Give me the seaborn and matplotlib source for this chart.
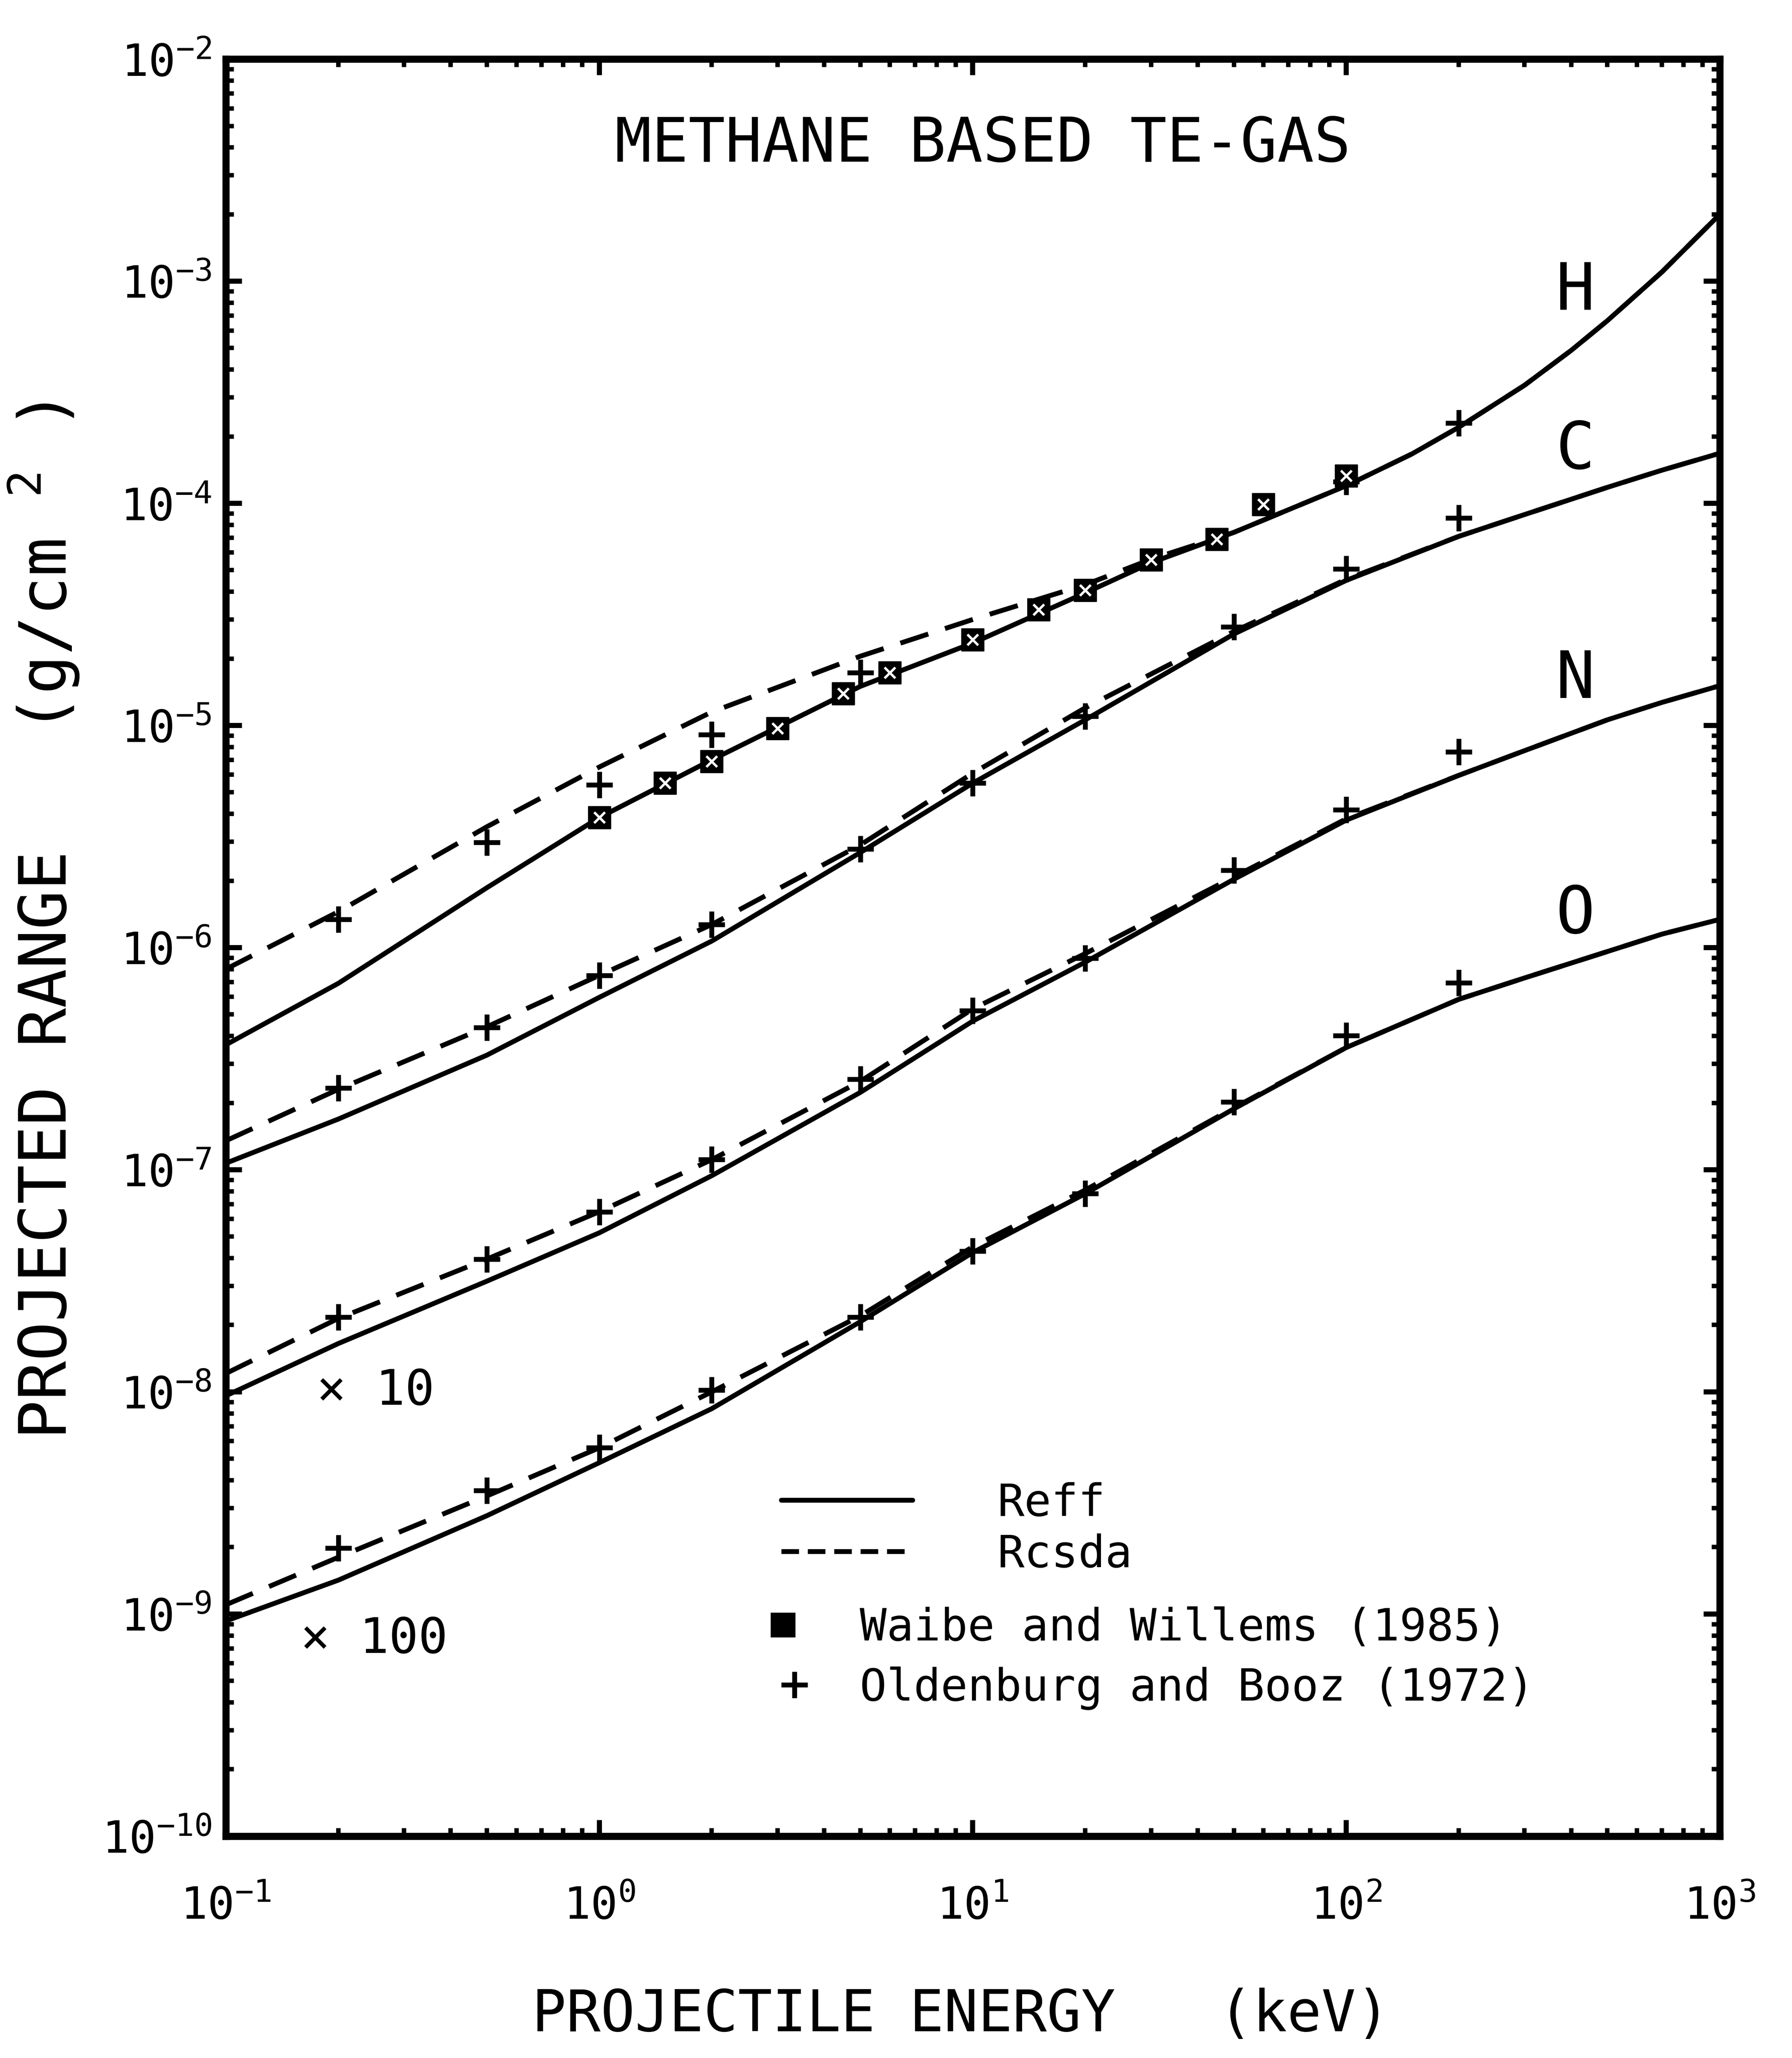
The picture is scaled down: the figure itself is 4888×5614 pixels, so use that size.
import numpy as np
import matplotlib
matplotlib.use("Agg")
import matplotlib.pyplot as plt
import seaborn as sns
from matplotlib.lines import Line2D
from matplotlib.legend_handler import HandlerTuple
from matplotlib.ticker import FixedLocator, NullFormatter, LogFormatterSciNotation

# ---------------- data ----------------
# projectile energy (keV)
energy_H = [0.1, 0.2, 0.5, 1, 2, 5, 10, 20, 30, 50, 100, 150, 200, 300, 400, 500, 700, 1000]
H_reff = [3.65e-7, 6.9e-7, 1.86e-6, 3.85e-6, 7.0e-6, 1.5e-5, 2.35e-5, 3.95e-5, 5.4e-5,
          7.4e-5, 1.2e-4, 1.67e-4, 2.2e-4, 3.4e-4, 4.88e-4, 6.64e-4, 1.1e-3, 2.0e-3]
H_csda = [8.0e-7, 1.45e-6, 3.5e-6, 6.5e-6, 1.15e-5, 2.05e-5, 3.0e-5, 4.3e-5, 5.6e-5,
          7.4e-5, 1.2e-4, 1.67e-4, 2.2e-4, 3.4e-4, 4.88e-4, 6.64e-4, 1.1e-3, 2.0e-3]

energy = [0.1, 0.2, 0.5, 1, 2, 5, 10, 20, 50, 100, 200, 300, 500, 700, 1000]
C_reff = [1.07e-7, 1.69e-7, 3.28e-7, 5.97e-7, 1.07e-6, 2.68e-6, 5.5e-6, 1.06e-5, 2.58e-5,
          4.5e-5, 7.1e-5, 8.9e-5, 1.18e-4, 1.41e-4, 1.68e-4]
C_csda = [1.35e-7, 2.3e-7, 4.4e-7, 7.5e-7, 1.27e-6, 2.9e-6, 6.1e-6, 1.2e-5, 2.65e-5,
          4.55e-5, 7.1e-5, 8.9e-5, 1.18e-4, 1.41e-4, 1.68e-4]
# N values are multiplied by 10, O values by 100 (as in the original)
N_reff = [9.6e-9, 1.65e-8, 3.15e-8, 5.2e-8, 9.4e-8, 2.23e-7, 4.67e-7, 8.6e-7, 2.03e-6,
          3.75e-6, 5.96e-6, 7.7e-6, 1.06e-5, 1.27e-5, 1.51e-5]
N_csda = [1.21e-8, 2.14e-8, 3.96e-8, 6.47e-8, 1.11e-7, 2.5e-7, 5.3e-7, 9.4e-7, 2.08e-6,
          3.8e-6, 5.96e-6, 7.7e-6, 1.06e-5, 1.27e-5, 1.51e-5]
O_reff = [9.3e-10, 1.42e-9, 2.77e-9, 4.8e-9, 8.4e-9, 2.07e-8, 4.24e-8, 7.8e-8, 1.88e-7,
          3.55e-7, 5.85e-7, 7.3e-7, 9.6e-7, 1.15e-6, 1.34e-6]
O_csda = [1.1e-9, 1.8e-9, 3.4e-9, 5.6e-9, 1.0e-8, 2.2e-8, 4.5e-8, 8.1e-8, 1.9e-7,
          3.55e-7, 5.85e-7, 7.3e-7, 9.6e-7, 1.15e-6, 1.34e-6]

# Waibel and Willems (1985) - hydrogen
waibel_E = [1, 1.5, 2, 3, 4.5, 6, 10, 15, 20, 30, 45, 60, 100]
waibel_R = [3.85e-6, 5.5e-6, 6.9e-6, 9.7e-6, 1.39e-5, 1.73e-5, 2.43e-5, 3.32e-5, 4.07e-5,
            5.57e-5, 6.9e-5, 9.9e-5, 1.33e-4]

# Oldenburg and Booz (1972)
oldH_E = [0.2, 0.5, 1, 2, 5, 100, 200]
oldH_R = [1.34e-6, 2.98e-6, 5.4e-6, 9.1e-6, 1.73e-5, 1.25e-4, 2.3e-4]
old_E = [0.2, 0.5, 1, 2, 5, 10, 20, 50, 100, 200]
oldC_R = [2.33e-7, 4.36e-7, 7.5e-7, 1.27e-6, 2.78e-6, 5.5e-6, 1.1e-5, 2.78e-5, 5.06e-5, 8.6e-5]
oldN_R = [2.17e-8, 3.96e-8, 6.47e-8, 1.11e-7, 2.56e-7, 5.2e-7, 8.97e-7, 2.23e-6, 4.18e-6, 7.6e-6]
oldO_R = [1.98e-9, 3.6e-9, 5.6e-9, 1.02e-8, 2.17e-8, 4.3e-8, 7.8e-8, 2.02e-7, 4.02e-7, 6.95e-7]

# axis decades
x_decades = [1e-1, 1e0, 1e1, 1e2, 1e3]
y_decades = [1e-10, 1e-9, 1e-8, 1e-7, 1e-6, 1e-5, 1e-4, 1e-3, 1e-2]

element_labels = ["H", "C", "N", "O"]
legend_labels = ["Reff", "Rcsda", "Waibe and Willems (1985)", "Oldenburg and Booz (1972)"]

# ---------------- style ----------------
sns.set_style("ticks")
plt.rcParams["font.family"] = ["DejaVu Sans Mono", "DejaVu Sans"]
plt.rcParams["mathtext.fontset"] = "custom"
plt.rcParams["mathtext.rm"] = "DejaVu Sans Mono"
plt.rcParams["mathtext.it"] = "DejaVu Sans Mono"
plt.rcParams["mathtext.bf"] = "DejaVu Sans Mono"
for k in ["text.color", "axes.labelcolor", "xtick.color", "ytick.color", "axes.edgecolor"]:
    plt.rcParams[k] = "black"

LW = 2.4
DASH = (0, (6.0, 3.6))

fig = plt.figure(figsize=(12.22, 14.035), dpi=400)
ax = fig.add_axes([0.1260, 0.1078, 0.8337, 0.8635])
ax.set_xscale("log")
ax.set_yscale("log")

curves = [(energy_H, H_reff, H_csda), (energy, C_reff, C_csda),
          (energy, N_reff, N_csda), (energy, O_reff, O_csda)]
for E, reff, csda in curves:
    sns.lineplot(x=E, y=reff, ax=ax, color="black", linewidth=LW,
                 estimator=None, sort=False, legend=False)
    sns.lineplot(x=E, y=csda, ax=ax, color="black", linewidth=LW, linestyle=DASH,
                 estimator=None, sort=False, legend=False)

# Oldenburg plus markers
for E, R in [(oldH_E, oldH_R), (old_E, oldC_R), (old_E, oldN_R), (old_E, oldO_R)]:
    sns.scatterplot(x=E, y=R, ax=ax, marker="+", s=170, color="black",
                    linewidth=2.4, legend=False, zorder=3)

# Waibel squares
sns.scatterplot(x=waibel_E, y=waibel_R, ax=ax, marker="s", s=120, color="black",
                edgecolor="black", linewidth=0.6, legend=False, zorder=4)
sns.scatterplot(x=waibel_E, y=waibel_R, ax=ax, marker="x", s=28, color="white",
                linewidth=1.2, legend=False, zorder=5)

# ---------------- axes ----------------
ax.set_xlim(x_decades[0], x_decades[-1])
ax.set_ylim(y_decades[0], y_decades[-1])
ax.xaxis.set_major_locator(FixedLocator(x_decades))
ax.yaxis.set_major_locator(FixedLocator(y_decades))
ax.xaxis.set_minor_locator(FixedLocator([m * d for d in x_decades[:-1] for m in range(2, 10)]))
ax.yaxis.set_minor_locator(FixedLocator([m * d for d in y_decades[:-1] for m in range(2, 10)]))
for axis in (ax.xaxis, ax.yaxis):
    axis.set_major_formatter(LogFormatterSciNotation())
    axis.set_minor_formatter(NullFormatter())
ax.tick_params(which="major", direction="in", length=8, width=2.5,
               top=True, right=True, labelsize=22)
ax.tick_params(which="minor", direction="in", length=4, width=2.2,
               top=True, right=True)
ax.tick_params(axis="x", which="major", pad=24)
ax.tick_params(axis="y", which="major", pad=7)
for s in ax.spines.values():
    s.set_linewidth(3.5)
    s.set_color("black")

ax.set_xlabel("PROJECTILE ENERGY   (keV)", fontsize=28)
ax.xaxis.set_label_coords(0.492, -0.085)
ax.set_ylabel("PROJECTED RANGE   (g/cm $^{2}$ )", fontsize=32)
ax.yaxis.set_label_coords(-0.097, 0.515)

ax.text(0.5066, 0.952, "METHANE BASED TE-GAS", transform=ax.transAxes,
        ha="center", va="center", fontsize=30)
for lab, y in zip(element_labels, [0.8693, 0.7799, 0.6507, 0.5185]):
    ax.text(0.9033, y, lab, transform=ax.transAxes, ha="center", va="center", fontsize=32)
ax.text(0.1002, 0.2504, "\u00d7 10", transform=ax.transAxes, ha="center", va="center", fontsize=24)
ax.text(0.0993, 0.1108, "\u00d7 100", transform=ax.transAxes, ha="center", va="center", fontsize=24)

# ---------------- legends ----------------
h_reff = Line2D([], [], color="black", linewidth=LW)
h_csda = Line2D([], [], color="black", linewidth=LW, linestyle=(0, (3.6, 1.8)))
leg1 = ax.legend([h_reff, h_csda], legend_labels[:2], loc="center left",
                 bbox_to_anchor=(0.3717, 0.1728), frameon=False, fontsize=22,
                 handlelength=2.93, handletextpad=1.9, labelspacing=0.18,
                 borderpad=0, borderaxespad=0)
ax.add_artist(leg1)
h_sq = (Line2D([], [], linestyle="none", marker="s", markersize=11, color="black"),
        Line2D([], [], linestyle="none", marker="x", markersize=6, markeredgewidth=1.2,
               color="white"))
h_plus = Line2D([], [], linestyle="none", marker="+", markersize=13,
                markeredgewidth=2.4, color="black")
ax.legend([h_sq, h_plus], legend_labels[2:], handler_map={tuple: HandlerTuple(ndivide=None)},
          loc="center left", bbox_to_anchor=(0.3656, 0.1001), frameon=False, fontsize=22,
          handlelength=1.0, handletextpad=0.96, labelspacing=0.37,
          borderpad=0, borderaxespad=0)

fig.savefig("out.png", dpi=400)
